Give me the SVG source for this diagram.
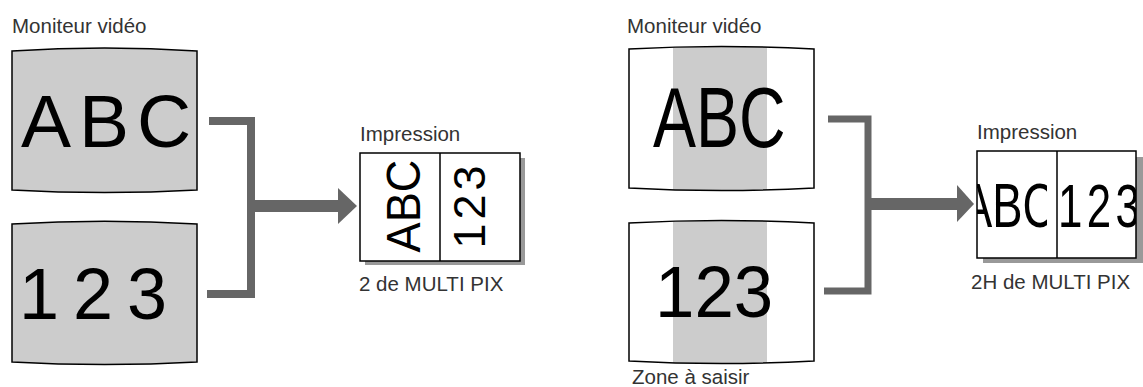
<svg xmlns="http://www.w3.org/2000/svg" width="1143" height="387" viewBox="0 0 1143 387">
<style>
.lbl{font-family:"Liberation Sans",Arial,sans-serif;font-size:20.5px;fill:#333}
.big{font-family:"Liberation Sans",Arial,sans-serif;fill:#000}
.mon{stroke:#000;stroke-width:1.5}
.conn{fill:none;stroke:#666;stroke-linejoin:miter}
.paper{fill:#fff;stroke:#000;stroke-width:1.5}
.shadow{fill:#999}
</style>
<defs>
<clipPath id="m3clip"><path d="M629,49 Q721.5,44 814,49 L814,188 Q721.5,193 629,188 Z"/></clipPath>
<clipPath id="m4clip"><path d="M629,223 Q721.5,218 814,223 L814,361 Q721.5,366 629,361 Z"/></clipPath>
<clipPath id="p2left"><rect x="977" y="151" width="70" height="107"/></clipPath>
<clipPath id="p2right"><rect x="1057" y="151" width="79" height="107"/></clipPath>
</defs>
<rect width="1143" height="387" fill="#fff"/>

<g id="labels">
<text class="lbl" x="12" y="32.5">Moniteur vidéo</text>
<text class="lbl" x="627" y="32.5">Moniteur vidéo</text>
<text class="lbl" x="632" y="384">Zone à saisir</text>
</g>

<g id="monitor1">
<path class="mon" fill="#ccc" d="M12,51 Q104.5,45 197,51 L197,190 Q104.5,195 12,190 Z"/>
<text class="big" x="21" y="147" font-size="75" letter-spacing="8">ABC</text>
</g>

<g id="monitor2">
<path class="mon" fill="#ccc" d="M12,224 Q104.5,218.5 197,224 L197,362 Q104.5,367 12,362 Z"/>
<text class="big" x="19" y="319" font-size="72" letter-spacing="14">123</text>
</g>

<g id="monitor3">
<path fill="#fff" d="M629,49 Q721.5,44 814,49 L814,188 Q721.5,193 629,188 Z"/>
<rect x="673" y="40" width="94" height="160" fill="#ccc" clip-path="url(#m3clip)"/>
<path class="mon" fill="none" d="M629,49 Q721.5,44 814,49 L814,188 Q721.5,193 629,188 Z"/>
<text class="big" transform="translate(653,147) scale(0.75,1)" font-size="86">ABC</text>
</g>

<g id="monitor4">
<path fill="#fff" d="M629,223 Q721.5,218 814,223 L814,361 Q721.5,366 629,361 Z"/>
<rect x="673" y="215" width="94" height="160" fill="#ccc" clip-path="url(#m4clip)"/>
<path class="mon" fill="none" d="M629,223 Q721.5,218 814,223 L814,361 Q721.5,366 629,361 Z"/>
<text class="big" transform="translate(655,317) scale(0.97,1)" font-size="73">123</text>
</g>

<g id="connectors">
<path class="conn" stroke-width="8" d="M209,121 H251 V294 H207"/>
<rect x="251" y="200" width="88" height="12" fill="#666"/>
<polygon points="338,188 357,206 338,224" fill="#666"/>
<path class="conn" stroke-width="7" d="M828,119 H868 V291 H824"/>
<rect x="868" y="198" width="90" height="12" fill="#666"/>
<polygon points="957,185 974,204 957,222" fill="#666"/>
</g>

<g id="print1">
<text class="lbl" x="360" y="140.5">Impression</text>
<rect class="shadow" x="365" y="158" width="160" height="107"/>
<rect class="paper" x="360" y="153" width="160" height="108"/>
<line x1="440" y1="153" x2="440" y2="261" stroke="#000" stroke-width="1.5"/>
<text class="big" transform="translate(420,206) rotate(-90) scale(0.94,1)" text-anchor="middle" font-size="48">ABC</text>
<text class="big" transform="translate(485,205) rotate(-90)" text-anchor="middle" font-size="45" letter-spacing="4">123</text>
<text class="lbl" x="359" y="291">2 de MULTI PIX</text>
</g>

<g id="print2">
<text class="lbl" x="977" y="139">Impression</text>
<rect class="shadow" x="983" y="157" width="160" height="106"/>
<rect class="paper" x="977" y="151" width="159" height="107"/>
<line x1="1057" y1="151" x2="1057" y2="258" stroke="#000" stroke-width="1.5"/>
<g clip-path="url(#p2left)">
<text class="big" transform="translate(962,227) scale(0.72,1)" font-size="63">ABC</text>
</g>
<g clip-path="url(#p2right)">
<text class="big" transform="translate(1058,227) scale(0.72,1)" font-size="61" letter-spacing="6">123</text>
</g>
<text class="lbl" x="971" y="289">2H de MULTI PIX</text>
</g>
</svg>
